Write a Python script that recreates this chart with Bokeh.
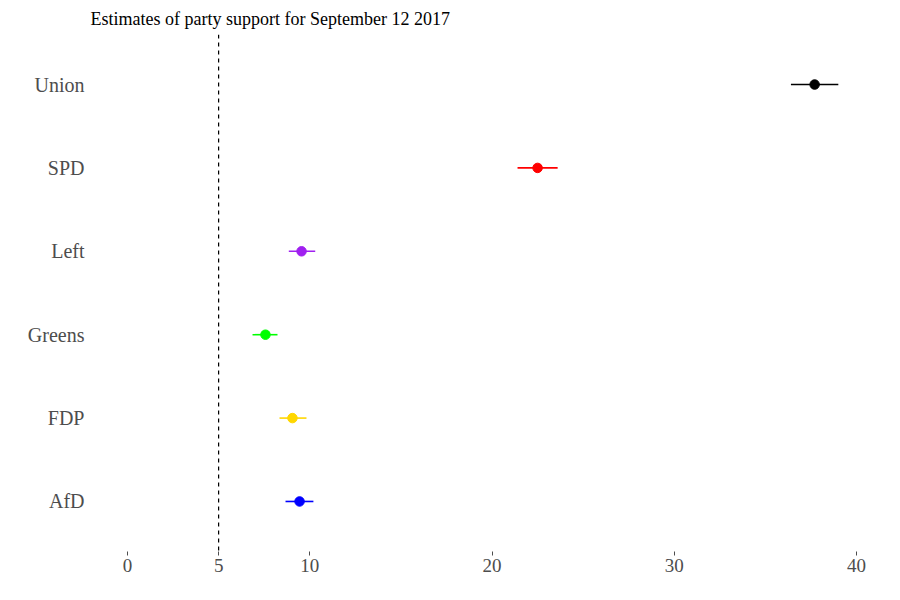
from bokeh.plotting import figure
from bokeh.models import Span, FixedTicker, ColumnDataSource, FactorRange
from bokeh.embed import file_html
from bokeh.resources import INLINE

parties = ["AfD", "FDP", "Greens", "Left", "SPD", "Union"]
estimate = [9.44, 9.05, 7.57, 9.55, 22.5, 37.7]
lower = [8.67, 8.34, 6.86, 8.85, 21.4, 36.4]
upper = [10.2, 9.82, 8.23, 10.3, 23.6, 39.0]
colors = ["#0000FF", "#FFD700", "#00FF00", "#A020F0", "#FF0000", "#000000"]
x_ticks = [0, 5, 10, 20, 30, 40]
threshold = 5

src = ColumnDataSource(dict(party=parties, est=estimate, lo=lower, hi=upper, col=colors))

yr = FactorRange(factors=parties, range_padding=0.1, range_padding_units="absolute")
p = figure(width=884, height=584, y_range=yr, x_range=(-1.92, 40.93),
           output_backend="svg", toolbar_location=None,
           title="Estimates of party support for September 12 2017")
p.min_border_left = 92
p.min_border_right = 11
p.min_border_bottom = 33
p.min_border_top = 34
p.outline_line_color = None
p.xgrid.grid_line_color = None
p.ygrid.grid_line_color = None
p.background_fill_color = "white"
p.border_fill_color = "white"

p.title.text_font = "Liberation Serif"
p.title.text_font_size = "18px"
p.title.text_font_style = "normal"
p.title.text_color = "black"
p.title.offset = -2
p.title.standoff = 12

p.xaxis.ticker = FixedTicker(ticks=x_ticks)
p.xaxis.axis_line_color = None
p.xaxis.major_tick_line_color = "#4d4d4d"
p.xaxis.major_tick_in = 0
p.xaxis.major_tick_out = 4
p.xaxis.minor_tick_line_color = None
p.xaxis.major_label_standoff = 3
p.xaxis.major_label_text_font = "Liberation Serif"
p.xaxis.major_label_text_font_size = "19px"
p.xaxis.major_label_text_color = "#4d4d4d"

p.yaxis.axis_line_color = None
p.yaxis.major_tick_line_color = None
p.yaxis.major_tick_in = 0
p.yaxis.major_tick_out = 0
p.yaxis.minor_tick_line_color = None
p.yaxis.major_label_standoff = 8
p.yaxis.major_label_text_font = "Liberation Serif"
p.yaxis.major_label_text_font_size = "20px"
p.yaxis.major_label_text_color = "#4d4d4d"

p.add_layout(Span(location=threshold, dimension="height", line_color="black",
                  line_dash="4 4", line_width=1.2))

p.segment(x0="lo", x1="hi", y0="party", y1="party", line_color="col", line_width=1.6, source=src)
p.scatter(x="est", y="party", fill_color="col", line_color="col", size=9.5, source=src)

open("out.html", "w").write(file_html(p, INLINE))
